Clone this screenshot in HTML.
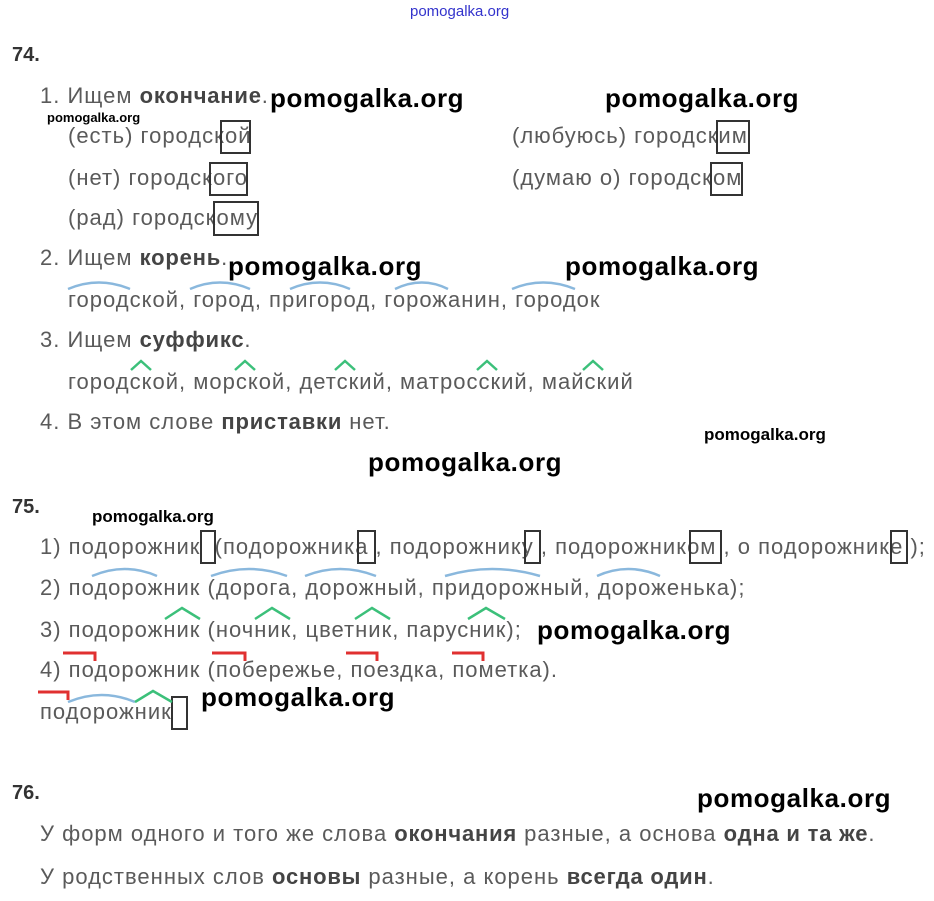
<!DOCTYPE html>
<html><head><meta charset="utf-8"><style>
body{margin:0;width:934px;height:901px;background:#fff;position:relative;overflow:hidden}
.t{position:absolute;font:22px "Liberation Sans",sans-serif;letter-spacing:1px;color:#5a5a5a;white-space:nowrap;line-height:24px}
.t b{color:#444;letter-spacing:0.8px}
.h{position:absolute;font:bold 20px "Liberation Sans",sans-serif;color:#333;line-height:24px}
.w{position:absolute;font:bold 26px "Liberation Sans",sans-serif;color:#000;white-space:nowrap;line-height:30px;letter-spacing:0.6px}
.ws{position:absolute;font:bold 13px "Liberation Sans",sans-serif;color:#000;white-space:nowrap;line-height:16px}
svg{position:absolute;left:0;top:0}
</style></head><body>
<div style="position:absolute;left:410px;top:3px;font:15px 'Liberation Sans',sans-serif;color:#3333cc;">pomogalka.org</div>
<div class="h" style="left:12px;top:43px">74.</div>
<div class="t" style="left:40px;top:84px">1. Ищем <b>окончание</b>.</div>
<div class="w" style="left:270px;top:83px">pomogalka.org</div>
<div class="w" style="left:605px;top:83px">pomogalka.org</div>
<div class="ws" style="left:47px;top:110px">pomogalka.org</div>
<div class="t" style="left:68px;top:124px">(есть) городской</div>
<div class="t" style="left:512px;top:124px">(любуюсь) городским</div>
<div class="t" style="left:68px;top:166px">(нет) городского</div>
<div class="t" style="left:512px;top:166px">(думаю о) городском</div>
<div class="t" style="left:68px;top:206px">(рад) городскому</div>
<div class="t" style="left:40px;top:246px">2. Ищем <b>корень</b>.</div>
<div class="w" style="left:228px;top:251px">pomogalka.org</div>
<div class="w" style="left:565px;top:251px">pomogalka.org</div>
<div class="t" style="left:68px;top:288px">городской, город, пригород, горожанин, городок</div>
<div class="t" style="left:40px;top:328px">3. Ищем <b>суффикс</b>.</div>
<div class="t" style="left:68px;top:370px">городской, морской, детский, матросский, майский</div>
<div class="t" style="left:40px;top:410px">4. В этом слове <b>приставки</b> нет.</div>
<div class="w" style="left:704px;top:420px;font-size:17px;letter-spacing:0">pomogalka.org</div>
<div class="w" style="left:368px;top:447px">pomogalka.org</div>
<div class="h" style="left:12px;top:495px">75.</div>
<div class="ws" style="left:92px;top:509px;font-size:17px">pomogalka.org</div>
<div class="t" style="left:40px;top:535px">1) подорожник&nbsp; (подорожника , подорожнику , подорожником , о подорожнике );</div>
<div class="t" style="left:40px;top:576px">2) подорожник (дорога, дорожный, придорожный, дороженька);</div>
<div class="t" style="left:40px;top:618px">3) подорожник (ночник, цветник, парусник);</div>
<div class="w" style="left:537px;top:615px">pomogalka.org</div>
<div class="t" style="left:40px;top:658px">4) подорожник (побережье, поездка, пометка).</div>
<div class="t" style="left:40px;top:700px">подорожник</div>
<div class="w" style="left:201px;top:682px">pomogalka.org</div>
<div class="h" style="left:12px;top:781px">76.</div>
<div class="w" style="left:697px;top:783px">pomogalka.org</div>
<div class="t" style="left:40px;top:822px">У форм одного и того же слова <b>окончания</b> разные, а основа <b>одна и та же</b>.</div>
<div class="t" style="left:40px;top:865px">У родственных слов <b>основы</b> разные, а корень <b>всегда один</b>.</div>
<svg width="934" height="901" fill="none">
<g stroke="#333" stroke-width="2">
<rect x="221" y="121" width="29" height="32"/><rect x="717" y="121" width="32" height="32"/>
<rect x="210" y="163" width="37" height="32"/><rect x="711" y="163" width="31" height="32"/>
<rect x="214" y="202" width="44" height="33"/>
<rect x="201" y="531" width="14" height="32"/><rect x="358" y="531" width="17" height="32"/>
<rect x="525" y="531" width="15" height="32"/><rect x="690" y="531" width="31" height="32"/>
<rect x="891" y="531" width="16" height="32"/><rect x="172" y="697" width="15" height="32"/>
</g>
<g stroke="#8ab8dd" stroke-width="2.5">
<path d="M68 289Q99 276 130 289"/><path d="M190 289Q220 276 250 289"/><path d="M290 289Q320 276 350 289"/><path d="M395 289Q422 276 448 289"/><path d="M512 289Q543 276 575 289"/>
<path d="M92 576Q125 562 157 576"/><path d="M211 576Q249 562 287 576"/><path d="M305 576Q340 562 376 576"/><path d="M445 576Q492 562 540 576"/><path d="M597 576Q628 562 660 576"/>
<path d="M68 702Q102 688 135 702"/>
</g>
<g stroke="#3cc07a" stroke-width="2.5">
<path d="M131 370L141 361L151 370"/><path d="M235 370L245 361L255 370"/><path d="M335 370L345 361L355 370"/><path d="M477 370L487 361L497 370"/><path d="M583 370L593 361L603 370"/>
<path d="M165 619L182 608L200 619"/><path d="M255 619L272 608L290 619"/><path d="M355 619L372 608L390 619"/><path d="M468 619L486 608L505 619"/>
<path d="M135 702L153 691L172 702"/>
</g>
<g stroke="#e03030" stroke-width="3">
<path d="M63 653H95V661"/><path d="M212 653H245V661"/><path d="M346 653H377V661"/><path d="M452 653H483V661"/>
<path d="M38 692H68V700"/>
</g>
</svg>
</body></html>
